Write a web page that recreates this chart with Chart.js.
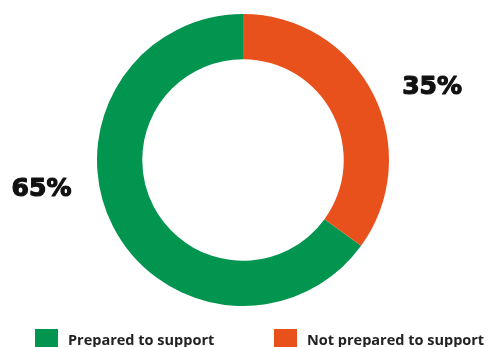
<!DOCTYPE html>
<html>
<head>
<meta charset="utf-8">
<script src="https://cdn.jsdelivr.net/npm/chart.js@4"></script>
<style>
  html, body { margin: 0; padding: 0; background: #fff; overflow: hidden; }
  #wrap { width: 488px; height: 347px; position: relative; }
</style>
</head>
<body>
<div id="wrap"><canvas id="supportChart" width="488" height="347"></canvas></div>
<script>
// --- Data ---
const categories = ['Prepared to support', 'Not prepared to support'];
const shares = [65, 35];
const sliceColors = ['#02954f', '#e8511b'];

// label anchors, in units of the outer radius from the centre
const labelAnchors = [{ x: -1.38, y: 0.205 }, { x: 1.295, y: -0.5 }];

// percentage labels beside the ring
const valueLabels = {
    id: 'valueLabels',
    afterDatasetsDraw(chart) {
        const ctx = chart.ctx;
        const meta = chart.getDatasetMeta(0);
        ctx.save();
        ctx.font = 'bold 25px "DejaVu Sans"';
        ctx.fillStyle = '#111';
        ctx.strokeStyle = '#111';
        ctx.lineWidth = 1.2;
        ctx.lineJoin = 'round';
        ctx.textAlign = 'center';
        ctx.textBaseline = 'middle';
        meta.data.forEach((arc, i) => {
            const r = arc.outerRadius;
            const a = labelAnchors[i];
            const txt = chart.data.datasets[0].data[i] + '%';
            ctx.fillText(txt, arc.x + a.x * r, arc.y + a.y * r);
            ctx.strokeText(txt, arc.x + a.x * r, arc.y + a.y * r);
        });
        ctx.restore();
    }
};

// legend row along the bottom edge
const bottomLegend = {
    id: 'bottomLegend',
    afterDraw(chart) {
        const ctx = chart.ctx;
        const ds = chart.data.datasets[0];
        const starts = [35, 274];
        ctx.save();
        ctx.font = 'bold 14.5px "Open Sans"';
        ctx.textBaseline = 'alphabetic';
        chart.data.labels.forEach((lbl, i) => {
            ctx.fillStyle = ds.backgroundColor[i];
            ctx.fillRect(starts[i], 329, 23, 22);
            ctx.fillStyle = '#222';
            ctx.fillText(lbl, starts[i] + 33, 345);
        });
        ctx.restore();
    }
};

new Chart(document.getElementById('supportChart'), {
    type: 'doughnut',
    data: {
        labels: categories,
        datasets: [{
            data: shares,
            backgroundColor: sliceColors,
            borderWidth: 0
        }]
    },
    options: {
        responsive: false,
        animation: false,
        cutout: '69%',
        rotation: shares[1] * 3.6,
        layout: { padding: { top: 14, bottom: 41, left: 0, right: 2 } },
        plugins: {
            legend: { display: false },
            tooltip: { enabled: false }
        }
    },
    plugins: [valueLabels, bottomLegend]
});
</script>
</body>
</html>
